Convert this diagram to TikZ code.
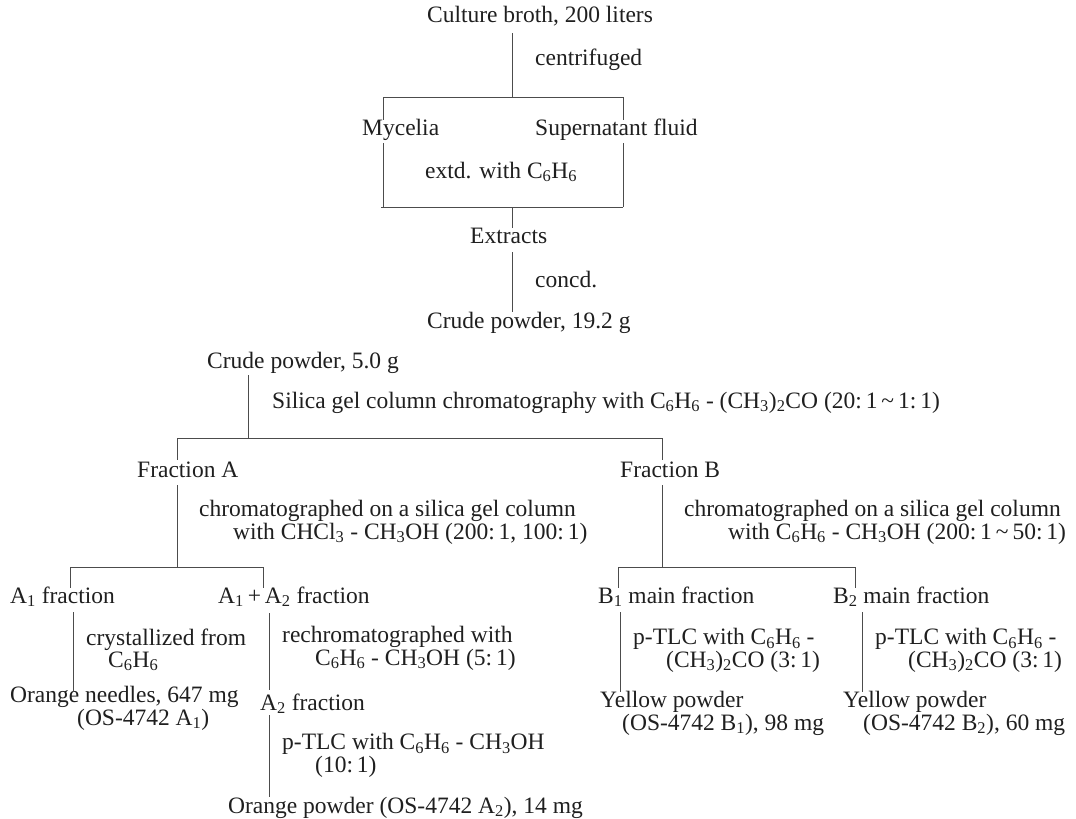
\documentclass[tikz,border=0pt]{standalone}
\usepackage{fontspec}
\setmainfont{Liberation Serif}
\newcommand\sbs[1]{\textsubscript{#1}}
\begin{document}
\begin{tikzpicture}[x=1pt,y=-1pt,
  lbl/.style={anchor=base west,inner sep=0pt,align=left,text=black!88,
    font=\fontsize{23.5}{20}\selectfont},
  ln/.style={draw=black!70,line width=0.8pt}]
\useasboundingbox (0,0) rectangle (1076,819);
% ---- text nodes (two-line nodes are placed by their last line)
\node[lbl,anchor=base] (culture) at (540,22) {Culture broth, 200 liters};
\node[lbl] (centr) at (535,65) {centrifuged};
\node[lbl] (myc) at (362,135) {Mycelia};
\node[lbl] (sup) at (535,135) {Supernatant fluid};
\node[lbl] (extd) at (425,178) {extd. with C\sbs{6}H\sbs{6}};
\node[lbl] (extr) at (470,243) {Extracts};
\node[lbl] (concd) at (535,287) {concd.};
\node[lbl] (crude19) at (427,328) {Crude powder, 19.2 g};
\node[lbl] (crude5) at (207,368) {Crude powder, 5.0 g};
\node[lbl] (silica) at (272,408) {Silica gel column chromatography with C\sbs{6}H\sbs{6} - (CH\sbs{3})\sbs{2}CO (20:\,1\,\textasciitilde\,1:\,1)};
\node[lbl] (fracA) at (137,477) {Fraction A};
\node[lbl] (chromA) at (199,539) {chromatographed on a silica gel column\\\hspace*{34pt}with CHCl\sbs{3} - CH\sbs{3}OH (200:\,1, 100:\,1)};
\node[lbl] (fracB) at (620,477) {Fraction B};
\node[lbl] (chromB) at (684,539) {chromatographed on a silica gel column\\\hspace*{44pt}with C\sbs{6}H\sbs{6} - CH\sbs{3}OH (200:\,1\,\textasciitilde\,50:\,1)};
\node[lbl] (A1) at (10,603) {A\sbs{1} fraction};
\node[lbl] (A12) at (218,603) {A\sbs{1}\,+\,A\sbs{2} fraction};
\node[lbl] (B1) at (598,603) {B\sbs{1} main fraction};
\node[lbl] (B2) at (833,603) {B\sbs{2} main fraction};
\node[lbl] (cryst) at (86,667) {crystallized from\\\hspace*{22pt}C\sbs{6}H\sbs{6}};
\node[lbl] (rechrom) at (282,665) {rechromatographed with\\\hspace*{33pt}C\sbs{6}H\sbs{6} - CH\sbs{3}OH (5:\,1)};
\node[lbl] (tlcB1) at (633,667) {p-TLC with C\sbs{6}H\sbs{6} -\\\hspace*{33pt}(CH\sbs{3})\sbs{2}CO (3:\,1)};
\node[lbl] (tlcB2) at (875,667) {p-TLC with C\sbs{6}H\sbs{6} -\\\hspace*{33pt}(CH\sbs{3})\sbs{2}CO (3:\,1)};
\node[lbl] (needles) at (10,725) {Orange needles, 647 mg\\\hspace*{67pt}(OS-4742 A\sbs{1})};
\node[lbl] (A2) at (260,710) {A\sbs{2} fraction};
\node[lbl] (yelB1) at (600,730) {Yellow powder\\\hspace*{22pt}(OS-4742 B\sbs{1}), 98 mg};
\node[lbl] (yelB2) at (843,730) {Yellow powder\\\hspace*{20pt}(OS-4742 B\sbs{2}), 60 mg};
\node[lbl] (tlcA2) at (282,772) {p-TLC with C\sbs{6}H\sbs{6} - CH\sbs{3}OH\\\hspace*{33pt}(10:\,1)};
\node[lbl] (orange) at (228,813) {Orange powder (OS-4742 A\sbs{2}), 14 mg};
% ---- junction coordinates
\coordinate (c0) at (512,33);   \coordinate (j1) at (512,97);
\coordinate (j1l) at (383,97);  \coordinate (j1r) at (623,97);
\coordinate (m1) at (383,120);  \coordinate (s1) at (623,120);
\coordinate (m2) at (383,143);  \coordinate (s2) at (623,143);
\coordinate (j2l) at (381,207); \coordinate (j2r) at (623,207);
\coordinate (j2) at (512,207);  \coordinate (e1) at (512,228);
\coordinate (e2) at (512,252);  \coordinate (r1) at (512,312);
\coordinate (p1) at (248,375);  \coordinate (j3) at (248,438);
\coordinate (j3l) at (177,438); \coordinate (j3r) at (662,438);
\coordinate (fa1) at (177,460); \coordinate (fb1) at (662,460);
\coordinate (fa2) at (177,485); \coordinate (fb2) at (662,485);
\coordinate (ja) at (177,567);  \coordinate (jb) at (662,567);
\coordinate (jal) at (70,567);  \coordinate (jar) at (263,567);
\coordinate (jbl) at (618,567); \coordinate (jbr) at (855,567);
\coordinate (a1t) at (70,588);  \coordinate (a12t) at (263,588);
\coordinate (b1t) at (618,588); \coordinate (b2t) at (855,588);
\coordinate (a1s) at (73,612);  \coordinate (a1e) at (73,692);
\coordinate (a12s) at (269,613);\coordinate (a12e) at (269,690);
\coordinate (a2s) at (269,715); \coordinate (a2e) at (269,797);
\coordinate (b1s) at (620,612); \coordinate (b1e) at (620,692);
\coordinate (b2s) at (862,612); \coordinate (b2e) at (862,692);
% ---- connectors
\path[ln] (c0) -- (j1);
\path[ln] (j1l) -- (j1r);
\path[ln] (j1l) -- (m1);
\path[ln] (j1r) -- (s1);
\path[ln] (m2) -- (m2 |- j2l);
\path[ln] (s2) -- (s2 |- j2r);
\path[ln] (j2l) -- (j2r);
\path[ln] (j2) -- (e1);
\path[ln] (e2) -- (r1);
\path[ln] (p1) -- (j3);
\path[ln] (j3l) -- (j3r);
\path[ln] (j3l) -- (fa1);
\path[ln] (j3r) -- (fb1);
\path[ln] (fa2) -- (ja);
\path[ln] (fb2) -- (jb);
\path[ln] (jal) -- (jar);
\path[ln] (jbl) -- (jbr);
\path[ln] (jal) -- (a1t);
\path[ln] (jar) -- (a12t);
\path[ln] (jbl) -- (b1t);
\path[ln] (jbr) -- (b2t);
\path[ln] (a1s) -- (a1e);
\path[ln] (a12s) -- (a12e);
\path[ln] (a2s) -- (a2e);
\path[ln] (b1s) -- (b1e);
\path[ln] (b2s) -- (b2e);
\end{tikzpicture}
\end{document}
